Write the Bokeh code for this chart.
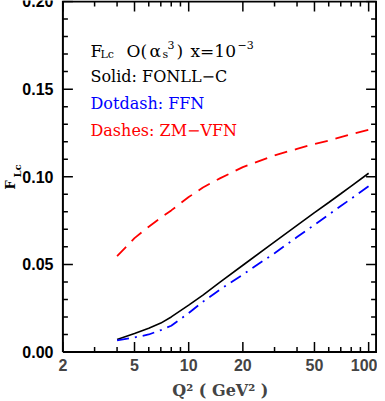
import math
from bokeh.plotting import figure
from bokeh.models import (LogAxis, FixedTicker, BasicTickFormatter, CustomJSTickFormatter,
                          Label, Range1d)
from bokeh.core.properties import value
from bokeh.embed import file_html
from bokeh.resources import INLINE

# ---- data ----
q2 = [4, 5, 6, 7, 8, 10, 12, 15, 20, 30, 40, 50, 60, 70, 80, 100]
flc_fonll = [0.0072, 0.0105, 0.0135, 0.0165, 0.0200, 0.0268, 0.0325, 0.0400,
             0.0495, 0.0628, 0.0722, 0.0795, 0.0853, 0.0903, 0.0947, 0.1020]
flc_ffn = [0.0067, 0.0083, 0.0100, 0.0125, 0.0150, 0.0222, 0.0287, 0.0358,
           0.0442, 0.0564, 0.0656, 0.0726, 0.0784, 0.0833, 0.0875, 0.0946]
flc_zmvfn = [0.0547, 0.0650, 0.0715, 0.0766, 0.0808, 0.0884, 0.0939, 0.0992,
             0.1055, 0.1122, 0.1159, 0.1187, 0.1206, 0.1226, 0.1243, 0.1268]

x_major = [2, 5, 10, 20, 50, 100]
x_minor = [3, 4, 6, 7, 8, 9, 30, 40, 60, 70, 80, 90]
y_major = [0.0, 0.05, 0.10, 0.15, 0.20]
y_major_labels = ["0.00", "0.05", "0.10", "0.15", "0.20"]
y_minor = [0.01, 0.02, 0.03, 0.04, 0.06, 0.07, 0.08, 0.09, 0.11, 0.12, 0.13,
           0.14, 0.16, 0.17, 0.18, 0.19]

# plotted box (axis limits) and the wider drawing area around it
XMIN, XMAX = 2, 110
YMIN, YMAX = 0.0, 0.20
XL, XR = 0.9, 112          # drawing area spans a little past the box
YB, YT = -0.0037, 0.20057
FW, FH = 377, 358

p = figure(x_axis_type="log", y_axis_location=None,
           x_range=Range1d(XL, XR), y_range=Range1d(YB, YT),
           frame_width=FW, frame_height=FH, output_backend="svg",
           toolbar_location=None, min_border=0)
p.grid.visible = False
p.outline_line_color = None
p.background_fill_color = "white"

TICKFONT = "Liberation Sans"
SERIF = "DejaVu Serif"

# bottom axis: library axis providing the tick labels
xb = p.xaxis[0]
xb.ticker = FixedTicker(ticks=x_major, minor_ticks=x_minor)
xb.formatter = BasicTickFormatter()
xb.axis_line_color = None
xb.major_tick_line_color = None
xb.minor_tick_line_color = None
xb.major_tick_in = 0
xb.major_tick_out = 0
xb.minor_tick_in = 0
xb.minor_tick_out = 0
xb.major_label_text_font = TICKFONT
xb.major_label_text_font_style = "bold"
xb.major_label_text_font_size = "16px"
xb.major_label_standoff = 0

# second bottom axis carrying the x title, centred like the reference
title_pos = [15]
xt2 = LogAxis(ticker=FixedTicker(ticks=title_pos, minor_ticks=[]),
              formatter=CustomJSTickFormatter(code="return 'Q² ( GeV² )'"))
xt2.axis_line_color = None
xt2.major_tick_line_color = None
xt2.minor_tick_line_color = None
xt2.major_tick_in = 0
xt2.major_tick_out = 0
xt2.major_label_standoff = 7
xt2.major_label_text_font = SERIF
xt2.major_label_text_font_style = "bold"
xt2.major_label_text_font_size = "16px"
p.add_layout(xt2, "below")

# box
p.line([XMIN, XMAX, XMAX, XMIN, XMIN], [YMIN, YMIN, YMAX, YMAX, YMIN],
       line_color="black", line_width=2, line_join="miter")

# inward ticks on all four sides
TK = dict(line_color="black", line_width=1.5, length_units="screen")
p.ray(x=[XMIN] * len(y_major), y=y_major, length=10, angle=0, **TK)
p.ray(x=[XMIN] * len(y_minor), y=y_minor, length=5, angle=0, **TK)
p.ray(x=[XMAX] * len(y_major), y=y_major, length=10, angle=math.pi, **TK)
p.ray(x=[XMAX] * len(y_minor), y=y_minor, length=5, angle=math.pi, **TK)
p.ray(x=x_major, y=[YMAX] * len(x_major), length=10, angle=-math.pi / 2, **TK)
p.ray(x=x_minor, y=[YMAX] * len(x_minor), length=5, angle=-math.pi / 2, **TK)
p.ray(x=x_major, y=[YMIN] * len(x_major), length=10, angle=math.pi / 2, **TK)
p.ray(x=x_minor, y=[YMIN] * len(x_minor), length=5, angle=math.pi / 2, **TK)

# helpers: canvas pixel -> data (for text placement only)
def dx(px):
    return XL * 10 ** (px / FW * math.log10(XR / XL))
def dy(py):
    return YB + (FH - py) / FH * (YT - YB)

# y tick labels
p.text(x=[dx(53)] * len(y_major), y=y_major, text=y_major_labels,
       text_font=value(TICKFONT), text_font_style="bold", text_font_size="16px",
       text_align="right", text_baseline="middle", text_color="black")

# curves
p.line(q2, flc_fonll, line_color="black", line_width=1.6)
p.line(q2, flc_ffn, line_color="#0000ff", line_width=1.8, line_dash="12 6 2 6")
p.line(q2, flc_zmvfn, line_color="#ff0000", line_width=1.8, line_dash="13 8")

def lab(px, py, text, size, color="black", style="normal", angle=0.0):
    p.add_layout(Label(x=dx(px), y=dy(py), text=text, text_font=SERIF,
                       text_font_size=f"{size}px", text_color=color,
                       text_font_style=style, text_baseline="alphabetic",
                       text_align="left", angle=angle))

# first line: F_Lc O(alpha_s^3) x=10^-3
lab(90, 50, "F", 17)
lab(100, 54, "Lc", 11)
lab(126, 50, "O(", 17)
lab(149, 50, "α", 17)
lab(162, 54, "s", 11)
lab(167, 44, "3", 11)
lab(176, 50, ")", 17)
lab(190, 50, "x=10", 17)
lab(237, 44, "−3", 11)
lab(90, 76, "Solid: FONLL−C", 16)
lab(90, 103, "Dotdash: FFN", 16, color="#0000ff")
lab(90, 130, "Dashes: ZM−VFN", 16, color="#ff0000")

# y-axis title F_Lc (rotated)
lab(10, 189, "F", 13, style="bold", angle=math.pi / 2)
lab(17, 177, "Lc", 10, style="bold", angle=math.pi / 2)

open("out.html", "w").write(file_html(p, INLINE))
